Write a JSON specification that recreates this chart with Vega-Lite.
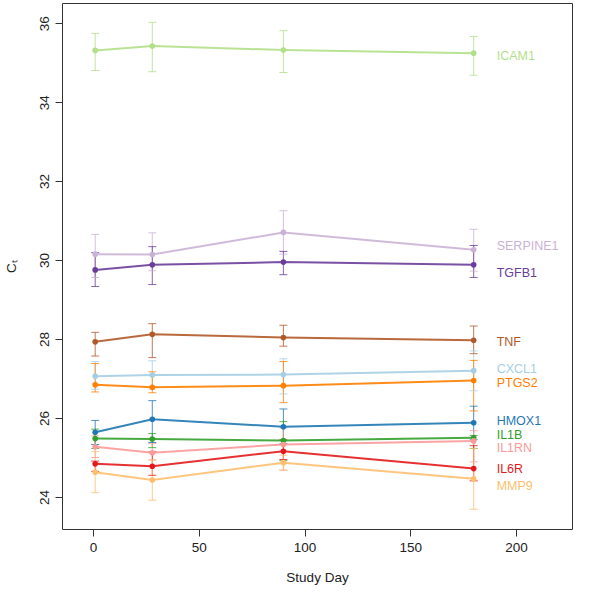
{
  "$schema": "https://vega.github.io/schema/vega-lite/v6.json",
  "autosize": "none",
  "width": 510,
  "height": 526,
  "padding": {"left": 62, "top": 3, "right": 28, "bottom": 68},
  "background": "white",
  "config": {
    "font": "Liberation Sans",
    "view": {"stroke": "#333333", "strokeWidth": 1},
    "axis": {"grid": false, "domain": false, "tickColor": "#333333", "tickSize": 7, "labelFontSize": 13.5, "labelColor": "#222222", "titleFontSize": 13.5, "titleFontWeight": "normal", "titleColor": "#222222", "labelFont": "Liberation Sans", "titleFont": "Liberation Sans"}
  },
  "datasets": {
    "obs": [
      {"gene": "ICAM1", "day": 1, "ct": 35.31, "lo": 34.80, "hi": 35.74},
      {"gene": "ICAM1", "day": 28, "ct": 35.42, "lo": 34.77, "hi": 36.02},
      {"gene": "ICAM1", "day": 90, "ct": 35.32, "lo": 34.75, "hi": 35.81},
      {"gene": "ICAM1", "day": 180, "ct": 35.24, "lo": 34.68, "hi": 35.66},
      {"gene": "SERPINE1", "day": 1, "ct": 30.15, "lo": 29.56, "hi": 30.65},
      {"gene": "SERPINE1", "day": 28, "ct": 30.14, "lo": 29.73, "hi": 30.69},
      {"gene": "SERPINE1", "day": 90, "ct": 30.70, "lo": 30.15, "hi": 31.25},
      {"gene": "SERPINE1", "day": 180, "ct": 30.26, "lo": 29.72, "hi": 30.78},
      {"gene": "TGFB1", "day": 1, "ct": 29.75, "lo": 29.33, "hi": 30.19},
      {"gene": "TGFB1", "day": 28, "ct": 29.88, "lo": 29.38, "hi": 30.34},
      {"gene": "TGFB1", "day": 90, "ct": 29.95, "lo": 29.63, "hi": 30.22},
      {"gene": "TGFB1", "day": 180, "ct": 29.88, "lo": 29.56, "hi": 30.37},
      {"gene": "TNF", "day": 1, "ct": 27.93, "lo": 27.57, "hi": 28.17},
      {"gene": "TNF", "day": 28, "ct": 28.12, "lo": 27.53, "hi": 28.39},
      {"gene": "TNF", "day": 90, "ct": 28.04, "lo": 27.82, "hi": 28.35},
      {"gene": "TNF", "day": 180, "ct": 27.97, "lo": 27.63, "hi": 28.33},
      {"gene": "CXCL1", "day": 1, "ct": 27.06, "lo": 26.73, "hi": 27.43},
      {"gene": "CXCL1", "day": 28, "ct": 27.09, "lo": 26.73, "hi": 27.45},
      {"gene": "CXCL1", "day": 90, "ct": 27.10, "lo": 26.61, "hi": 27.50},
      {"gene": "CXCL1", "day": 180, "ct": 27.20, "lo": 26.69, "hi": 27.70},
      {"gene": "PTGS2", "day": 1, "ct": 26.84, "lo": 26.66, "hi": 27.38},
      {"gene": "PTGS2", "day": 28, "ct": 26.78, "lo": 26.64, "hi": 27.17},
      {"gene": "PTGS2", "day": 90, "ct": 26.82, "lo": 26.39, "hi": 27.43},
      {"gene": "PTGS2", "day": 180, "ct": 26.95, "lo": 26.18, "hi": 27.46},
      {"gene": "HMOX1", "day": 1, "ct": 25.64, "lo": 25.33, "hi": 25.94},
      {"gene": "HMOX1", "day": 28, "ct": 25.97, "lo": 25.38, "hi": 26.44},
      {"gene": "HMOX1", "day": 90, "ct": 25.78, "lo": 25.35, "hi": 26.23},
      {"gene": "HMOX1", "day": 180, "ct": 25.88, "lo": 25.45, "hi": 26.30},
      {"gene": "IL1B", "day": 1, "ct": 25.48, "lo": 25.23, "hi": 25.72},
      {"gene": "IL1B", "day": 28, "ct": 25.47, "lo": 25.25, "hi": 25.61},
      {"gene": "IL1B", "day": 90, "ct": 25.43, "lo": 24.92, "hi": 25.91},
      {"gene": "IL1B", "day": 180, "ct": 25.50, "lo": 25.23, "hi": 25.56},
      {"gene": "IL1RN", "day": 1, "ct": 25.27, "lo": 25.00, "hi": 25.55},
      {"gene": "IL1RN", "day": 28, "ct": 25.12, "lo": 24.94, "hi": 25.35},
      {"gene": "IL1RN", "day": 90, "ct": 25.33, "lo": 24.68, "hi": 25.75},
      {"gene": "IL1RN", "day": 180, "ct": 25.42, "lo": 24.89, "hi": 25.68},
      {"gene": "IL6R", "day": 1, "ct": 24.84, "lo": 24.65, "hi": 24.91},
      {"gene": "IL6R", "day": 28, "ct": 24.78, "lo": 24.55, "hi": 25.15},
      {"gene": "IL6R", "day": 90, "ct": 25.16, "lo": 24.95, "hi": 25.45},
      {"gene": "IL6R", "day": 180, "ct": 24.72, "lo": 24.41, "hi": 25.30},
      {"gene": "MMP9", "day": 1, "ct": 24.63, "lo": 24.11, "hi": 25.15},
      {"gene": "MMP9", "day": 28, "ct": 24.43, "lo": 23.92, "hi": 24.94},
      {"gene": "MMP9", "day": 90, "ct": 24.87, "lo": 24.68, "hi": 25.06},
      {"gene": "MMP9", "day": 180, "ct": 24.46, "lo": 23.69, "hi": 25.23}
    ],
    "labels": [
      {"gene": "ICAM1", "day": 180, "ct": 35.16},
      {"gene": "SERPINE1", "day": 180, "ct": 30.35},
      {"gene": "TGFB1", "day": 180, "ct": 29.68},
      {"gene": "TNF", "day": 180, "ct": 27.92},
      {"gene": "CXCL1", "day": 180, "ct": 27.24},
      {"gene": "PTGS2", "day": 180, "ct": 26.89},
      {"gene": "HMOX1", "day": 180, "ct": 25.92},
      {"gene": "IL1B", "day": 180, "ct": 25.58},
      {"gene": "IL1RN", "day": 180, "ct": 25.25},
      {"gene": "IL6R", "day": 180, "ct": 24.71},
      {"gene": "MMP9", "day": 180, "ct": 24.28}
    ]
  },
  "encoding": {
    "x": {"field": "day", "type": "quantitative", "scale": {"domain": [-14.7, 226.5], "nice": false, "zero": false},
      "axis": {"values": [0, 50, 100, 150, 200], "title": "Study Day", "labelPadding": 4, "titlePadding": 17}},
    "color": {"field": "gene", "type": "nominal", "legend": null,
      "scale": {"domain": ["CXCL1", "HMOX1", "ICAM1", "IL1B", "IL1RN", "IL6R", "MMP9", "PTGS2", "SERPINE1", "TGFB1", "TNF"],
        "range": ["#A6CEE3", "#1F78B4", "#B2DF8A", "#33A02C", "#FB9A99", "#E31A1C", "#FDBF6F", "#FF7F00", "#CAB2D6", "#6A3D9A", "#B15928"]}}
  },
  "layer": [
    {
      "data": {"name": "obs"},
      "mark": {"type": "rule", "strokeWidth": 1, "opacity": 0.8},
      "encoding": {
        "y": {"field": "lo", "type": "quantitative", "scale": {"domain": [23.19, 36.51], "nice": false, "zero": false},
          "axis": {"values": [24, 26, 28, 30, 32, 34, 36], "title": "Cₜ", "labelAngle": -90, "labelAlign": "center", "labelBaseline": "bottom", "labelPadding": 4, "titlePadding": 19}},
        "y2": {"field": "hi"}
      }
    },
    {
      "data": {"name": "obs"},
      "mark": {"type": "tick", "orient": "horizontal", "size": 8, "thickness": 1, "opacity": 0.8},
      "encoding": {"y": {"field": "lo", "type": "quantitative"}}
    },
    {
      "data": {"name": "obs"},
      "mark": {"type": "tick", "orient": "horizontal", "size": 8, "thickness": 1, "opacity": 0.8},
      "encoding": {"y": {"field": "hi", "type": "quantitative"}}
    },
    {
      "data": {"name": "obs"},
      "mark": {"type": "line", "strokeWidth": 2, "opacity": 0.9},
      "encoding": {"y": {"field": "ct", "type": "quantitative"}, "detail": {"field": "gene"}}
    },
    {
      "data": {"name": "obs"},
      "mark": {"type": "point", "filled": true, "size": 32, "opacity": 1},
      "encoding": {"y": {"field": "ct", "type": "quantitative"}}
    },
    {
      "data": {"name": "labels"},
      "mark": {"type": "text", "align": "left", "baseline": "middle", "dx": 23, "fontSize": 12.5, "font": "Liberation Sans"},
      "encoding": {"y": {"field": "ct", "type": "quantitative"}, "text": {"field": "gene"}}
    }
  ]
}
